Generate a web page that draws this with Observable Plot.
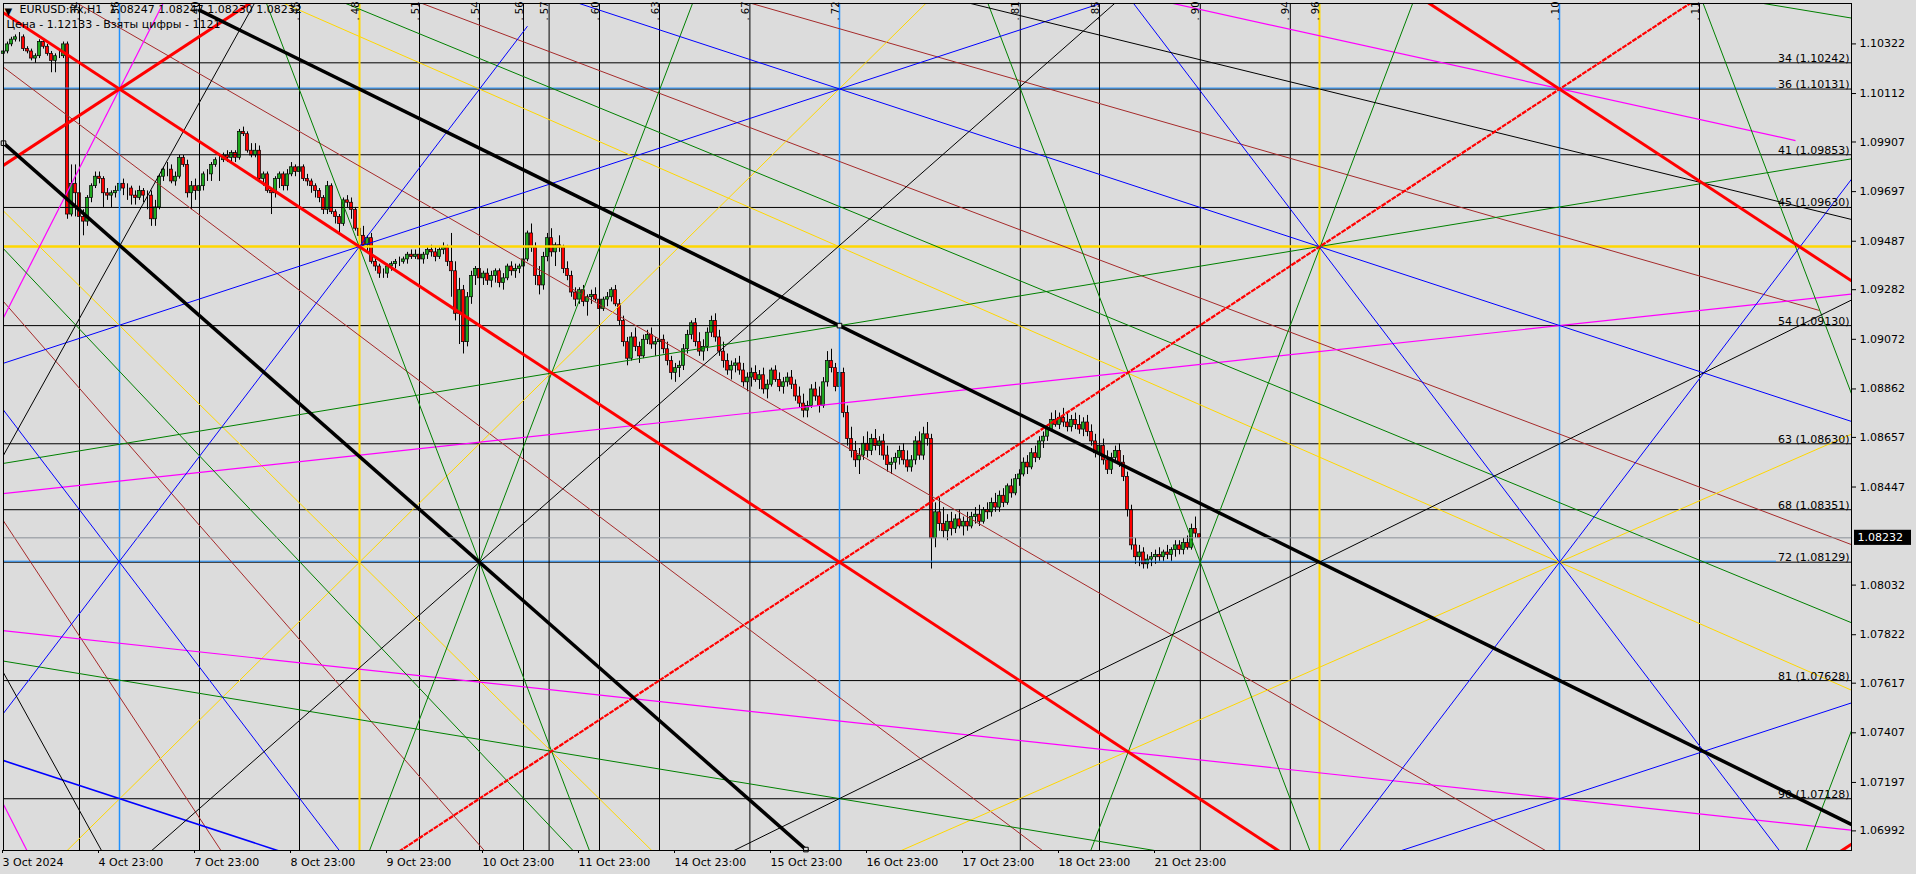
<!DOCTYPE html>
<html><head><meta charset="utf-8">
<script src="https://cdn.jsdelivr.net/npm/d3@7"></script>
<script src="https://cdn.jsdelivr.net/npm/@observablehq/plot@0.6"></script>
<style>
html,body{margin:0;padding:0;background:#dcdcdc;overflow:hidden}
svg{display:block}
</style></head>
<body><div id="chart"></div>
<script>
// ---- axis data ----
const yTicks = [1.10322,1.10112,1.09907,1.09697,1.09487,1.09282,1.09072,1.08862,1.08657,1.08447,1.08032,1.07822,1.07617,1.07407,1.07197,1.06992];
const xTickBars = [0,24,48,72,96,120,144,168,192,216,240,264,288];
const xTickLabels = ["3 Oct 2024","4 Oct 23:00","7 Oct 23:00","8 Oct 23:00","9 Oct 23:00","10 Oct 23:00","11 Oct 23:00","14 Oct 23:00","15 Oct 23:00","16 Oct 23:00","17 Oct 23:00","18 Oct 23:00","21 Oct 23:00"];
const lastPrice = 1.08232;

// ---- EURUSD H1 candles (bar index 0..299) ----
const candleOpen = [
1.1028,1.1029,1.1032,1.1034,1.1035,1.1035,1.1030,1.1029,1.1026,1.1027,1.1033,1.1031,1.1028,1.1025,1.1027,1.1027,1.1032,1.0960,1.0973,1.0969,1.0959,1.0957,1.0967,1.0972,1.0976,
1.0975,1.0969,1.0968,1.0969,1.0970,1.0973,1.0971,1.0971,1.0968,1.0967,1.0970,1.0968,1.0968,1.0958,1.0963,1.0976,1.0979,1.0979,1.0974,1.0976,1.0984,1.0981,1.0969,1.0972,1.0970,
1.0972,1.0977,1.0977,1.0981,1.0983,1.0983,1.0985,1.0984,1.0986,1.0984,1.0995,1.0994,1.0987,1.0985,1.0987,1.0975,1.0977,1.0970,1.0969,1.0975,1.0977,1.0972,1.0977,1.0980,1.0978,
1.0980,1.0975,1.0974,1.0972,1.0970,1.0967,1.0962,1.0972,1.0961,1.0959,1.0956,1.0966,1.0965,1.0962,1.0954,1.0951,1.0947,1.0950,1.0940,1.0938,1.0935,1.0935,1.0938,1.0939,1.0940,
1.0940,1.0941,1.0943,1.0942,1.0943,1.0941,1.0943,1.0945,1.0944,1.0942,1.0945,1.0946,1.0940,1.0936,1.0918,1.0928,1.0906,1.0925,1.0934,1.0937,1.0933,1.0935,1.0932,1.0934,1.0936,
1.0931,1.0933,1.0938,1.0936,1.0937,1.0938,1.0941,1.0952,1.0946,1.0934,1.0930,1.0942,1.0950,1.0944,1.0947,1.0946,1.0937,1.0934,1.0927,1.0924,1.0928,1.0923,1.0925,1.0926,1.0924,
1.0920,1.0924,1.0925,1.0928,1.0922,1.0915,1.0906,1.0899,1.0908,1.0904,1.0900,1.0907,1.0909,1.0905,1.0906,1.0907,1.0903,1.0898,1.0893,1.0895,1.0896,1.0903,1.0909,1.0914,1.0906,
1.0902,1.0904,1.0910,1.0915,1.0908,1.0902,1.0898,1.0894,1.0896,1.0897,1.0894,1.0889,1.0891,1.0893,1.0890,1.0892,1.0886,1.0888,1.0894,1.0890,1.0887,1.0889,1.0891,1.0888,1.0883,
1.0880,1.0877,1.0879,1.0886,1.0883,1.0879,1.0889,1.0898,1.0895,1.0887,1.0893,1.0876,1.0865,1.0860,1.0856,1.0858,1.0863,1.0860,1.0865,1.0862,1.0864,1.0858,1.0854,1.0855,1.0857,
1.0860,1.0856,1.0853,1.0856,1.0864,1.0858,1.0867,1.0865,1.0823,1.0834,1.0829,1.0826,1.0830,1.0827,1.0831,1.0828,1.0830,1.0828,1.0832,1.0833,1.0830,1.0835,1.0834,1.0838,1.0836,
1.0841,1.0838,1.0845,1.0842,1.0848,1.0850,1.0855,1.0853,1.0859,1.0857,1.0864,1.0866,1.0869,1.0873,1.0871,1.0874,1.0872,1.0870,1.0873,1.0871,1.0869,1.0872,1.0868,1.0864,1.0859,
1.0862,1.0856,1.0852,1.0857,1.0860,1.0855,1.0849,1.0835,1.0820,1.0815,1.0817,1.0812,1.0814,1.0815,1.0816,1.0815,1.0817,1.0816,1.0818,1.0820,1.0818,1.0821,1.0819,1.0827,1.08247];
const candleHigh = [
1.1030,1.1033,1.1035,1.1036,1.1037,1.1036,1.1031,1.1030,1.1028,1.1034,1.1034,1.1032,1.1029,1.1028,1.1029,1.1033,1.1033,1.0981,1.0981,1.0972,1.0962,1.0968,1.0973,1.0978,1.0978,
1.0976,1.0971,1.0970,1.0972,1.0975,1.0975,1.0973,1.0972,1.0970,1.0972,1.0971,1.0970,1.0970,1.0966,1.0977,1.0980,1.0982,1.0981,1.0978,1.0985,1.0985,1.0983,1.0974,1.0975,1.0973,
1.0978,1.0979,1.0982,1.0984,1.0985,1.0986,1.0987,1.0987,1.0987,1.0996,1.0997,1.0995,1.0990,1.0990,1.0989,1.0978,1.0978,1.0971,1.0976,1.0978,1.0978,1.0979,1.0982,1.0981,1.0981,
1.0981,1.0977,1.0975,1.0973,1.0971,1.0968,1.0974,1.0973,1.0962,1.0960,1.0967,1.0968,1.0967,1.0963,1.0958,1.0955,1.0951,1.0952,1.0941,1.0939,1.0937,1.0939,1.0940,1.0941,1.0942,
1.0942,1.0944,1.0945,1.0945,1.0945,1.0944,1.0946,1.0947,1.0946,1.0946,1.0948,1.0947,1.0952,1.0940,1.0933,1.0930,1.0927,1.0936,1.0938,1.0938,1.0936,1.0937,1.0936,1.0937,1.0937,
1.0935,1.0939,1.0940,1.0939,1.0939,1.0942,1.0953,1.0956,1.0948,1.0938,1.0944,1.0952,1.0954,1.0948,1.0951,1.0947,1.0940,1.0936,1.0929,1.0929,1.0930,1.0926,1.0928,1.0929,1.0927,
1.0925,1.0927,1.0929,1.0930,1.0924,1.0917,1.0908,1.0910,1.0912,1.0906,1.0909,1.0911,1.0912,1.0908,1.0909,1.0909,1.0906,1.0900,1.0897,1.0898,1.0905,1.0911,1.0915,1.0916,1.0910,
1.0907,1.0912,1.0917,1.0918,1.0911,1.0906,1.0901,1.0898,1.0899,1.0900,1.0897,1.0893,1.0895,1.0896,1.0894,1.0895,1.0890,1.0895,1.0896,1.0893,1.0891,1.0893,1.0894,1.0890,1.0887,
1.0884,1.0881,1.0888,1.0889,1.0887,1.0891,1.0902,1.0903,1.0897,1.0897,1.0895,1.0879,1.0870,1.0864,1.0861,1.0866,1.0868,1.0867,1.0869,1.0866,1.0867,1.0862,1.0857,1.0859,1.0862,
1.0863,1.0860,1.0858,1.0866,1.0868,1.0870,1.0872,1.0867,1.0838,1.0840,1.0836,1.0833,1.0834,1.0833,1.0835,1.0832,1.0834,1.0834,1.0836,1.0837,1.0836,1.0838,1.0840,1.0842,1.0843,
1.0844,1.0846,1.0848,1.0850,1.0852,1.0857,1.0858,1.0861,1.0862,1.0866,1.0868,1.0871,1.0876,1.0877,1.0876,1.0878,1.0876,1.0875,1.0876,1.0875,1.0874,1.0875,1.0871,1.0867,1.0864,
1.0865,1.0860,1.0859,1.0862,1.0863,1.0858,1.0851,1.0837,1.0823,1.0820,1.0819,1.0816,1.0817,1.0818,1.0819,1.0818,1.0820,1.0819,1.0822,1.0822,1.0823,1.0824,1.0829,1.0832,1.08247];
const candleLow = [
1.1026,1.1028,1.1031,1.1033,1.1033,1.1029,1.1028,1.1025,1.1024,1.1026,1.1030,1.1027,1.1020,1.1020,1.1026,1.1026,1.0958,1.0959,1.0959,1.0954,1.0951,1.0955,1.0965,1.0971,1.0973,
1.0963,1.0966,1.0963,1.0967,1.0966,1.0968,1.0966,1.0964,1.0964,1.0966,1.0965,1.0962,1.0955,1.0955,1.0962,1.0974,1.0976,1.0973,1.0972,1.0975,1.0980,1.0967,1.0962,1.0966,1.0968,
1.0970,1.0974,1.0974,1.0980,1.0974,1.0982,1.0982,1.0982,1.0982,1.0983,1.0993,1.0986,1.0984,1.0984,1.0974,1.0972,1.0969,1.0960,1.0967,1.0971,1.0970,1.0970,1.0976,1.0976,1.0977,
1.0974,1.0972,1.0969,1.0967,1.0965,1.0960,1.0960,1.0960,1.0956,1.0952,1.0955,1.0963,1.0958,1.0953,1.0950,1.0946,1.0944,1.0939,1.0936,1.0933,1.0933,1.0933,1.0936,1.0937,1.0938,
1.0939,1.0939,1.0941,1.0941,1.0940,1.0939,1.0941,1.0942,1.0940,1.0941,1.0943,1.0938,1.0925,1.0915,1.0905,1.0901,1.0904,1.0922,1.0930,1.0931,1.0930,1.0930,1.0929,1.0931,1.0929,
1.0928,1.0932,1.0934,1.0933,1.0935,1.0937,1.0940,1.0944,1.0930,1.0926,1.0928,1.0940,1.0942,1.0938,1.0944,1.0935,1.0932,1.0925,1.0921,1.0922,1.0921,1.0917,1.0922,1.0923,1.0918,
1.0919,1.0921,1.0923,1.0921,1.0913,1.0904,1.0896,1.0898,1.0902,1.0897,1.0899,1.0905,1.0903,1.0900,1.0904,1.0901,1.0896,1.0890,1.0889,1.0891,1.0894,1.0901,1.0907,1.0904,1.0900,
1.0898,1.0902,1.0908,1.0906,1.0900,1.0895,1.0892,1.0890,1.0893,1.0892,1.0887,1.0885,1.0887,1.0889,1.0886,1.0884,1.0882,1.0887,1.0889,1.0885,1.0884,1.0887,1.0886,1.0881,1.0878,
1.0874,1.0874,1.0878,1.0881,1.0876,1.0878,1.0887,1.0893,1.0885,1.0880,1.0874,1.0862,1.0857,1.0853,1.0850,1.0856,1.0857,1.0858,1.0860,1.0858,1.0856,1.0851,1.0850,1.0852,1.0854,
1.0854,1.0851,1.0851,1.0854,1.0856,1.0856,1.0862,1.0810,1.0819,1.0826,1.0823,1.0822,1.0824,1.0825,1.0827,1.0824,1.0826,1.0827,1.0829,1.0828,1.0829,1.0831,1.0832,1.0834,1.0834,
1.0836,1.0837,1.0840,1.0841,1.0845,1.0849,1.0850,1.0852,1.0855,1.0856,1.0861,1.0864,1.0868,1.0870,1.0869,1.0870,1.0868,1.0868,1.0869,1.0867,1.0866,1.0866,1.0862,1.0857,1.0856,
1.0854,1.0850,1.0850,1.0855,1.0853,1.0847,1.0832,1.0818,1.0812,1.0811,1.0810,1.0810,1.0811,1.0812,1.0813,1.0813,1.0814,1.0813,1.0815,1.0816,1.0816,1.0818,1.0818,1.0823,1.08230];
const candleClose = [
1.1029,1.1032,1.1034,1.1035,1.1035,1.1030,1.1029,1.1026,1.1027,1.1033,1.1031,1.1028,1.1025,1.1027,1.1027,1.1032,1.0960,1.0973,1.0969,1.0959,1.0957,1.0967,1.0972,1.0976,1.0975,
1.0969,1.0968,1.0969,1.0970,1.0973,1.0971,1.0971,1.0968,1.0967,1.0970,1.0968,1.0968,1.0958,1.0963,1.0976,1.0979,1.0979,1.0974,1.0976,1.0984,1.0981,1.0969,1.0972,1.0970,1.0972,
1.0977,1.0977,1.0981,1.0983,1.0983,1.0985,1.0984,1.0986,1.0984,1.0995,1.0994,1.0987,1.0985,1.0987,1.0975,1.0977,1.0970,1.0969,1.0975,1.0977,1.0972,1.0977,1.0980,1.0978,1.0980,
1.0975,1.0974,1.0972,1.0970,1.0967,1.0962,1.0972,1.0961,1.0959,1.0956,1.0966,1.0965,1.0962,1.0954,1.0951,1.0947,1.0950,1.0940,1.0938,1.0935,1.0935,1.0938,1.0939,1.0940,1.0940,
1.0941,1.0943,1.0942,1.0943,1.0941,1.0943,1.0945,1.0944,1.0942,1.0945,1.0946,1.0940,1.0936,1.0918,1.0928,1.0906,1.0925,1.0934,1.0937,1.0933,1.0935,1.0932,1.0934,1.0936,1.0931,
1.0933,1.0938,1.0936,1.0937,1.0938,1.0941,1.0952,1.0946,1.0934,1.0930,1.0942,1.0950,1.0944,1.0947,1.0946,1.0937,1.0934,1.0927,1.0924,1.0928,1.0923,1.0925,1.0926,1.0924,1.0920,
1.0924,1.0925,1.0928,1.0922,1.0915,1.0906,1.0899,1.0908,1.0904,1.0900,1.0907,1.0909,1.0905,1.0906,1.0907,1.0903,1.0898,1.0893,1.0895,1.0896,1.0903,1.0909,1.0914,1.0906,1.0902,
1.0904,1.0910,1.0915,1.0908,1.0902,1.0898,1.0894,1.0896,1.0897,1.0894,1.0889,1.0891,1.0893,1.0890,1.0892,1.0886,1.0888,1.0894,1.0890,1.0887,1.0889,1.0891,1.0888,1.0883,1.0880,
1.0877,1.0879,1.0886,1.0883,1.0879,1.0889,1.0898,1.0895,1.0887,1.0893,1.0876,1.0865,1.0860,1.0856,1.0858,1.0863,1.0860,1.0865,1.0862,1.0864,1.0858,1.0854,1.0855,1.0857,1.0860,
1.0856,1.0853,1.0856,1.0864,1.0858,1.0867,1.0865,1.0823,1.0834,1.0829,1.0826,1.0830,1.0827,1.0831,1.0828,1.0830,1.0828,1.0832,1.0833,1.0830,1.0835,1.0834,1.0838,1.0836,1.0841,
1.0838,1.0845,1.0842,1.0848,1.0850,1.0855,1.0853,1.0859,1.0857,1.0864,1.0866,1.0869,1.0873,1.0871,1.0874,1.0872,1.0870,1.0873,1.0871,1.0869,1.0872,1.0868,1.0864,1.0859,1.0862,
1.0856,1.0852,1.0857,1.0860,1.0855,1.0849,1.0835,1.0820,1.0815,1.0817,1.0812,1.0814,1.0815,1.0816,1.0815,1.0817,1.0816,1.0818,1.0820,1.0818,1.0821,1.0819,1.0827,1.0825,1.08232];

// ---- horizontal levels ----
const levelNums = [34,36,41,45,54,63,68,72,81,90];
const levelPrices = [1.10242,1.10131,1.09853,1.09630,1.09130,1.08630,1.08351,1.08129,1.07628,1.07128];
const blueLevels = [1.10131,1.08129];
const goldLevel = [1.09465];

// ---- vertical lines (bar index) ----
const vBlack = [19,49,74,104,119,130,136.4,149,164,186.6,254.2,274,299.2,321.7,424];
const vBlue = [29,209,389];
const vGold = [89,329];
const vLabelBars = [19,29,49,74,89,104,119,130,136.4,149,164,186.6,209,254.2,274,299.2,321.7,329,389,424];
const vLabelText = ["34","36","40","45","48","51","54","56","57","60","63","67","72","81","85","90","94","96","10","11"];

// ---- drawn objects: [bar1, price1, bar2, price2] ----
const redThick = [[-10,1.10565,330,1.06783],[-10,1.09697,100,1.10921],[340,1.10676,480,1.09119],[449,1.06791,470,1.07025]];
const redDashed = [[80,1.06695,450,1.10809]];
const blackThick = [[48.7,1.10467,480,1.06869],[0,1.09902,250,1.06177]];
const blackThin = [[-5,1.08429,64,1.10532],[0,1.07661,26,1.06863],[30,1.06804,290,1.10675],[180,1.06887,470,1.09305],[230,1.10542,470,1.09546]];
const blueThin = [[-5,1.08943,280,1.10525],[140,1.10515,470,1.08680],[-3,1.07423,131,1.10397],[-3,1.08839,90,1.06775],[345,1.06884,470,1.07578],[330,1.06819,470,1.09927],[280,1.10549,450,1.06775]];
const blueMid = [[-3,1.07306,75,1.06873]];
const greenThin = [[85,1.10497,470,1.07817],[-2,1.09491,145,1.06862],[-2,1.07716,300,1.06875],[-5,1.08533,470,1.09858],[64,1.10571,150,1.06753],[90,1.06842,175,1.10615],[245,1.10543,330,1.06757],[270,1.06828,355,1.10614],[420,1.10712,480,1.08040],[440,1.06436,480,1.08218],[435,1.10507,470,1.10409]];
const magentaThin = [[-2,1.09097,42,1.10564],[-1,1.07137,7,1.06871],[-5,1.08410,470,1.09278],[-5,1.07848,470,1.06980],[290,1.10502,448,1.09913]];
const yellowThin = [[68,1.10509,470,1.07528],[-3,1.09665,165,1.06860],[14,1.06877,235,1.10567],[220,1.06876,470,1.08730]];
const brownThin = [[100,1.10523,470,1.08152],[185,1.10503,454,1.09194],[-1,1.09251,122,1.06874],[-1,1.08329,56,1.06867],[17,1.10508,390,1.06865],[-1,1.10236,262,1.06880]];
const markerPoints = [[0,1.09902],[209,1.09130],[200.6,1.06913]];

const bullColor = "#1fa81f", bearColor = "#ff0000";
const nBars = Math.min(candleOpen.length, candleHigh.length, candleLow.length, candleClose.length);
const bars = d3.range(nBars);

const link = (data, stroke, w, extra={}) => Plot.link(data, {x1:d=>d[0], y1:d=>d[1], x2:d=>d[2], y2:d=>d[3], stroke, strokeWidth:w, clip:true, ...extra});

const chart = Plot.plot({
  width:1916, height:874,
  marginLeft:3, marginTop:3, marginRight:65, marginBottom:24,
  x:{domain:[0,462]},
  y:{domain:[1.06909,1.10493]},
  style:{background:"#dcdcdc", fontFamily:"DejaVu Sans", fontSize:"11px", color:"black"},
  marks:[
    // candles
    Plot.ruleX(bars, {x:i=>i, y1:i=>candleLow[i], y2:i=>candleHigh[i], stroke:"black", strokeWidth:1}),
    Plot.rect(bars, {x1:i=>i-0.38, x2:i=>i+0.38, y1:i=>Math.min(candleOpen[i],candleClose[i]), y2:i=>Math.max(candleOpen[i],candleClose[i]),
      fill:i=>candleClose[i]>=candleOpen[i]?bullColor:bearColor, stroke:"black", strokeWidth:0.7}),
    // grid objects
    Plot.ruleY(levelPrices, {stroke:"black", strokeWidth:1}),
    Plot.ruleY(blueLevels, {x1:0, x2:443.25, stroke:"#1e90ff", strokeWidth:1, dy:-1}),
    Plot.ruleX(vBlack, {stroke:"black", strokeWidth:1}),
    Plot.ruleX(vBlue, {stroke:"#1e90ff", strokeWidth:1.5}),
    Plot.ruleX(vGold, {stroke:"#ffd700", strokeWidth:2}),
    Plot.ruleY(goldLevel, {stroke:"#ffd700", strokeWidth:2.5}),
    link(brownThin, "#a52a2a", 1),
    link(yellowThin, "#ffd700", 1),
    link(magentaThin, "#ff00ff", 1.2),
    link(greenThin, "#008000", 1),
    link(blueThin, "#0000ff", 1),
    link(blueMid, "#0000ff", 1.6),
    link(blackThin, "black", 1),
    link(redDashed, "#ff0000", 2.2, {strokeDasharray:"5,1"}),
    link(redThick, "#ff0000", 3),
    link(blackThick, "black", 3.5),
    Plot.dot(markerPoints, {x:d=>d[0], y:d=>d[1], symbol:"square", r:2.6, stroke:"black", fill:"#dcdcdc", strokeWidth:1}),
    Plot.ruleY([lastPrice], {stroke:"#8a9097", strokeWidth:1}),
    Plot.frame({stroke:"black"}),
    Plot.text(levelPrices, {x:462, y:d=>d, text:(d,i)=>`${levelNums[i]} (${d.toFixed(5)})`, textAnchor:"end", lineAnchor:"bottom", dx:-2, dy:-1, fill:"black"}),
    Plot.text(vLabelBars, {x:d=>d, y:1.10421, text:(d,i)=>". "+vLabelText[i], rotate:-90, textAnchor:"start", lineAnchor:"bottom", dx:-1, fill:"black", fontSize:10}),
    Plot.axisY({anchor:"right", ticks:yTicks, tickFormat:d=>d.toFixed(5), tickSize:4, tickPadding:4, fontSize:11}),
    Plot.axisX({anchor:"bottom", ticks:xTickBars, tickFormat:(d,i)=>xTickLabels[i], textAnchor:"start", tickSize:3, tickPadding:5, fontSize:11, dx:-1}),
    Plot.rect([lastPrice], {x1:462.75, x2:477, y1:d=>d+0.00032, y2:d=>d-0.00032, fill:"black"}),
    Plot.text([lastPrice], {x:463.5, y:d=>d, text:d=>d.toFixed(5), textAnchor:"start", fill:"white", fontSize:11}),
    Plot.text(["\u25BC"], {frameAnchor:"top-left", dx:1, dy:4, fontSize:10, fill:"black"}),
    Plot.text(["EURUSD:ffx,H1  1.08247 1.08247 1.08230 1.08232"], {frameAnchor:"top-left", dx:16, dy:2, fontSize:11, fill:"black"}),
    Plot.text(["Цена - 1.12133 - Взяты цифры - 1121"], {frameAnchor:"top-left", dx:3, dy:17, fontSize:11, fill:"black"})
  ]
});
document.getElementById("chart").appendChild(chart);
</script></body></html>
